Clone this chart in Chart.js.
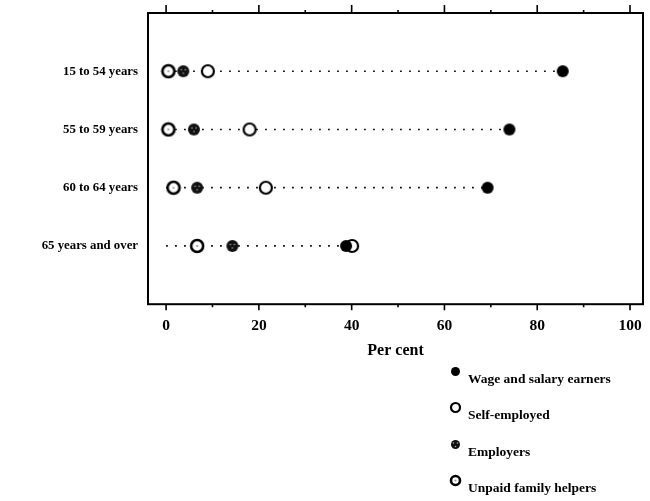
<!DOCTYPE html>
<html>
<head>
<meta charset="utf-8">
<script src="https://cdn.jsdelivr.net/npm/chart.js@4.4.1/dist/chart.umd.min.js"></script>
<style>
  html, body { margin: 0; padding: 0; background: #fff; }
  #wrap { position: relative; width: 650px; height: 501px; }
  #legend { position: absolute; left: 0; top: 0; width: 650px; height: 501px; pointer-events: none; }
  .item { position: absolute; left: 449px; font: bold 13.5px "Liberation Serif", serif; color: #000; white-space: nowrap; line-height: 16px; }
  .item canvas { position: absolute; left: 0; top: -6px; }
  .item span { position: absolute; left: 19px; top: 0; }
</style>
</head>
<body>
<div id="wrap">
  <canvas id="chart" width="650" height="501"></canvas>
  <div id="legend"></div>
</div>
<script>
// dados (per cent)
const ageGroups = ['15 to 54 years', '55 to 59 years', '60 to 64 years', '65 years and over'];
const wageEarners = [85.5, 74.0, 69.3, 38.8];
const selfEmployed = [9.0, 18.0, 21.5, 40.1];
const employers = [3.7, 6.0, 6.7, 14.3];
const unpaidHelpers = [0.5, 0.5, 1.6, 6.7];
const seriesNames = ['Wage and salary earners', 'Self-employed', 'Employers', 'Unpaid family helpers'];
const xTickLabels = [0, 20, 40, 60, 80, 100];
const xMinorTicks = [0, 10, 20, 30, 40, 50, 60, 70, 80, 90, 100];

// marcadores desenhados num canvas pequeno (usados como pointStyle)
function makeMarker(kind, r) {
    const size = Math.ceil(r * 2 + 4);
    const c = document.createElement('canvas');
    c.width = size; c.height = size;
    const g = c.getContext('2d');
    const m = size / 2;
    g.beginPath();
    g.arc(m, m, r, 0, Math.PI * 2);
    if (kind === 'wage') {
        g.fillStyle = '#000'; g.fill();
    } else if (kind === 'self') {
        g.fillStyle = '#fff'; g.fill();
        g.lineWidth = 2.2; g.strokeStyle = '#000'; g.stroke();
    } else if (kind === 'employer') {
        g.fillStyle = '#111'; g.fill();
        g.fillStyle = '#aaa';
        [[-2, -1.5], [2, -1.5], [0, 2]].forEach(([dx, dy]) => {
            g.beginPath(); g.arc(m + dx, m + dy, 0.8, 0, Math.PI * 2); g.fill();
        });
    } else {
        g.fillStyle = '#fff'; g.fill();
        g.lineWidth = 2.6; g.strokeStyle = '#000'; g.stroke();
        g.fillStyle = '#999';
        g.beginPath(); g.arc(m, m, 1.1, 0, Math.PI * 2); g.fill();
    }
    return c;
}

const kinds = ['wage', 'self', 'employer', 'unpaid'];
const markers = kinds.map(k => makeMarker(k, 6));
const legendMarkers = kinds.map(k => makeMarker(k, 4.5));
const seriesValues = [wageEarners, selfEmployed, employers, unpaidHelpers];

// linha pontilhada de 0 até o maior valor de cada faixa
const connector = [];
ageGroups.forEach((g, i) => {
    const maxVal = Math.max(wageEarners[i], selfEmployed[i], employers[i], unpaidHelpers[i]);
    connector.push({ x: 0, y: i + 1 }, { x: maxVal, y: i + 1 }, { x: null, y: null });
});

const datasets = seriesValues.map((vals, s) => ({
    label: seriesNames[s],
    data: vals.map((v, i) => ({ x: v, y: i + 1 })),
    pointStyle: markers[s],
    pointRadius: 6,
    showLine: false,
    order: s
}));
datasets.push({
    label: 'connector',
    data: connector,
    showLine: true,
    spanGaps: false,
    borderColor: '#000',
    borderWidth: 1.7,
    borderDash: [1.7, 7.3],
    pointRadius: 0,
    order: 10
});

// moldura e marcas dos eixos (topo e base)
const framePlugin = {
    id: 'frame',
    afterDraw(chart) {
        const { ctx, chartArea: a, scales } = chart;
        ctx.save();
        ctx.strokeStyle = '#000';
        ctx.lineWidth = 2;
        ctx.strokeRect(a.left, a.top, a.right - a.left, a.bottom - a.top);
        ctx.lineWidth = 1.6;
        xMinorTicks.forEach(v => {
            const px = scales.x.getPixelForValue(v);
            const major = v % 20 === 0;
            ctx.beginPath();
            ctx.moveTo(px, a.bottom); ctx.lineTo(px, a.bottom + (major ? 6 : 3));
            ctx.moveTo(px, a.top); ctx.lineTo(px, a.top - (major ? 8 : 3));
            ctx.stroke();
        });
        ctx.restore();
    }
};

// zera o padding automático dos eixos para a área do gráfico ficar fixa
const noPad = (scale) => {
    scale.paddingLeft = 0; scale.paddingRight = 0;
    scale.paddingTop = 0; scale.paddingBottom = 0;
};

Chart.defaults.font.family = '"Liberation Serif", serif';
Chart.defaults.font.weight = 'bold';
Chart.defaults.color = '#000';

new Chart(document.getElementById('chart'), {
    type: 'scatter',
    data: { datasets },
    options: {
        responsive: false,
        animation: false,
        layout: { padding: { top: 13, right: 0, left: 0, bottom: 137 } },
        plugins: { legend: { display: false }, tooltip: { enabled: false } },
        scales: {
            x: {
                min: -3.9,
                max: 102.8,
                afterBuildTicks: (scale) => { scale.ticks = xTickLabels.map(v => ({ value: v })); },
                afterFit: noPad,
                grid: { display: false, drawTicks: false },
                border: { display: false },
                ticks: { padding: 12, font: { size: 15.5 }, maxRotation: 0 },
                title: { display: true, text: 'Per cent', font: { size: 16 }, padding: { top: -6, bottom: 4 } }
            },
            y: {
                min: 0,
                max: 5,
                reverse: true,
                afterBuildTicks: (scale) => { scale.ticks = ageGroups.map((g, i) => ({ value: i + 1 })); },
                afterFit: (scale) => { noPad(scale); scale.width = 148; },
                grid: { display: false, drawTicks: false },
                border: { display: false },
                ticks: { padding: 10, font: { size: 12.8 }, callback: (v) => ageGroups[v - 1] }
            }
        }
    },
    plugins: [framePlugin]
});

// legenda vertical em HTML
const legendBox = document.getElementById('legend');
seriesNames.forEach((name, i) => {
    const item = document.createElement('div');
    item.className = 'item';
    item.style.top = (371 + i * 36.3) + 'px';
    item.appendChild(legendMarkers[i]);
    const span = document.createElement('span');
    span.textContent = name;
    item.appendChild(span);
    legendBox.appendChild(item);
});
</script>
</body>
</html>
